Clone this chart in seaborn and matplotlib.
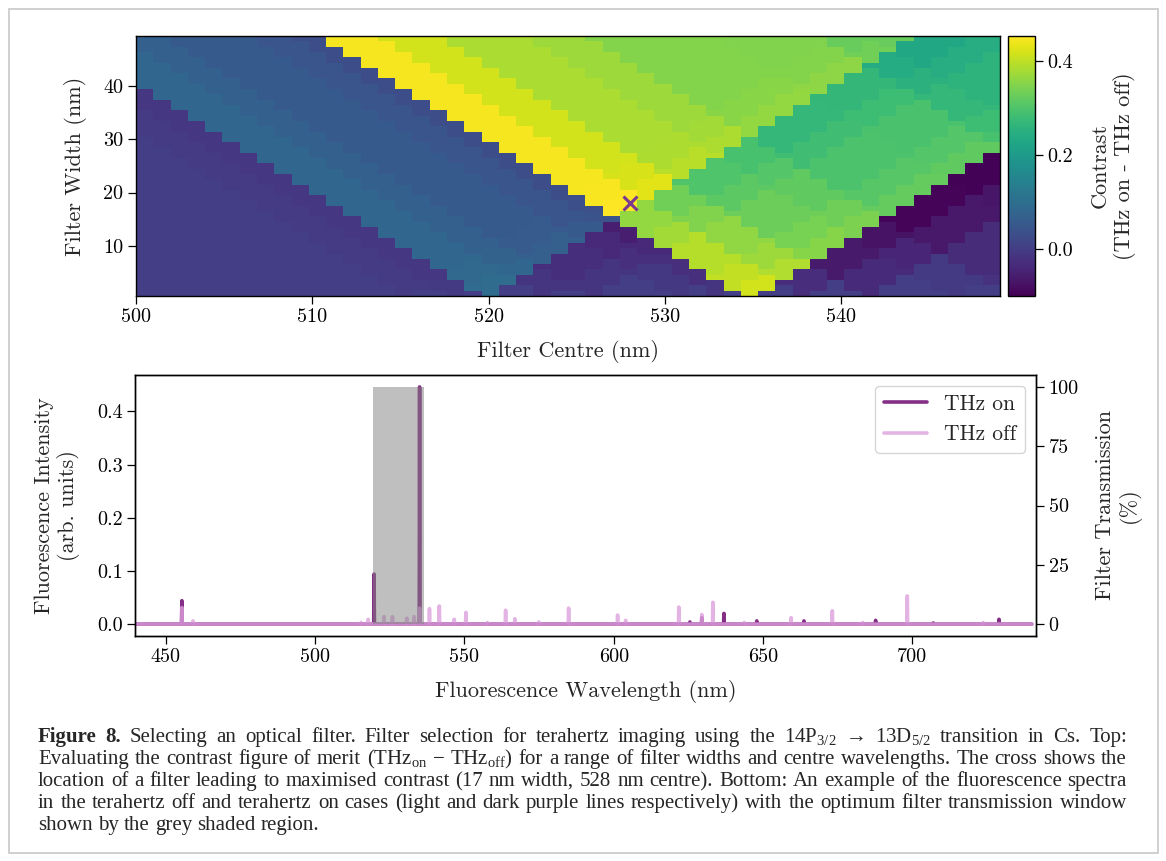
import numpy as np
import pandas as pd
import matplotlib
matplotlib.use("Agg")
import matplotlib.pyplot as plt
from matplotlib.patches import Rectangle
import seaborn as sns

# ---------------- data ----------------
# fluorescence lines of the example spectra (wavelength nm, intensity arb. units)
on_wl = [455.4, 519.75, 535.0, 625.5, 629.5, 636.9, 647.9, 663.7, 687.7, 707.0, 729.0]
on_int = [0.044, 0.094, 0.446, 0.004, 0.012, 0.020, 0.006, 0.006, 0.007, 0.002, 0.009]
off_wl = [455.4, 459.1, 515.4, 517.8, 523.1, 525.9, 530.7, 533.2, 535.0, 538.3,
          541.6, 546.6, 550.5, 557.7, 563.8, 566.9, 574.9, 584.9, 601.3, 604.0,
          621.8, 629.5, 633.2, 643.7, 659.4, 673.2, 683.4, 698.3, 723.7]
off_int = [0.031, 0.006, 0.003, 0.009, 0.014, 0.014, 0.011, 0.014, 0.030, 0.029,
           0.034, 0.009, 0.022, 0.003, 0.026, 0.010, 0.004, 0.030, 0.017, 0.007,
           0.032, 0.018, 0.041, 0.003, 0.012, 0.025, 0.003, 0.053, 0.003]
spec_range = [440.0, 740.0]

# filter scan grid
filter_centres = list(range(500, 550))   # nm
filter_widths = list(range(1, 50))       # nm
best_centre, best_width = 528, 18        # cross as drawn
window = [519.5, 536.5]                  # optimum filter (17 nm, 528 nm)
window_trans = 100

top_xticks = [500, 510, 520, 530, 540]
top_yticks = [10, 20, 30, 40]
cbar_ticks = [0.0, 0.2, 0.4]
bot_xticks = [450, 500, 550, 600, 650, 700]
bot_yticks = [0.0, 0.1, 0.2, 0.3, 0.4]
right_yticks = [0, 25, 50, 75, 100]

# ---------------- style ----------------
sns.set_style("ticks")
plt.rcParams.update({
    "font.family": "serif",
    "font.serif": ["cmr10", "DejaVu Serif"],
    "axes.unicode_minus": False,
    "mathtext.fontset": "custom",
    "mathtext.rm": "Liberation Serif",
    "mathtext.it": "Liberation Serif:italic",
    "mathtext.bf": "Liberation Serif:bold",
    "axes.edgecolor": "black",
    "axes.linewidth": 1.0,
    "xtick.color": "black", "ytick.color": "black",
    "xtick.direction": "out", "ytick.direction": "out",
    "xtick.major.size": 5.5, "ytick.major.size": 5.5,
    "xtick.major.width": 0.9, "ytick.major.width": 0.9,
    "xtick.labelsize": 14.5, "ytick.labelsize": 14.5,
    "axes.labelsize": 16,
    "legend.fontsize": 15.5,
})

W, H = 1166, 861
fig = plt.figure(figsize=(W / 100, H / 100), dpi=100)

def fx(px):
    return px / W

def fy(py):
    return 1 - py / H

on_color = "#7d2380"
off_color = "#dda0dd"

# ---------------- top: contrast map ----------------
contrast = np.zeros((len(filter_widths), len(filter_centres)))
for i, w in enumerate(filter_widths):
    for j, c in enumerate(filter_centres):
        lo, hi = c - w / 2, c + w / 2
        s_on = sum(h for l, h in zip(on_wl, on_int) if lo <= l <= hi)
        s_off = sum(h for l, h in zip(off_wl, off_int) if lo <= l <= hi)
        contrast[i, j] = s_on - s_off

ax1 = fig.add_axes([fx(136), fy(296), fx(1000) - fx(136), fy(36) - fy(296)])
cax = fig.add_axes([fx(1008), fy(296), fx(1035) - fx(1008), fy(36) - fy(296)])
sns.heatmap(contrast, ax=ax1, cbar_ax=cax, cmap="viridis", vmin=-0.1, vmax=0.453,
            xticklabels=False, yticklabels=False, linewidths=0)
ax1.invert_yaxis()
ncol = len(filter_centres)
span = filter_centres[-1] - filter_centres[0]

def xpos(nm):
    return (nm - filter_centres[0]) * ncol / span

def ypos(w):
    return w - filter_widths[0] + 0.5

ax1.set_xticks([xpos(t) for t in top_xticks])
ax1.set_xticklabels([str(t) for t in top_xticks], rotation=0)
ax1.set_yticks([ypos(t) for t in top_yticks])
ax1.set_yticklabels([str(t) for t in top_yticks], rotation=0)
for s in ax1.spines.values():
    s.set_visible(True)
    s.set_linewidth(1.0)
ax1.plot([xpos(best_centre)], [ypos(best_width)], marker="x", ms=10, mew=2.2,
         color="#7b3a8e", ls="none")
ax1.set_xlabel("Filter Centre (nm)", labelpad=10)
ax1.set_ylabel("Filter Width (nm)", labelpad=12)

cb = ax1.collections[0].colorbar
cb.outline.set_linewidth(1.0)
cb.outline.set_edgecolor("black")
cb.set_ticks(cbar_ticks)
cb.set_ticklabels(["0.0", "0.2", "0.4"])
cb.ax.tick_params(labelsize=14.5, length=5.5, width=0.9)
cb.set_label("Contrast\n(THz on - THz off)", fontsize=16, labelpad=12)

# ---------------- bottom: spectra ----------------
def spectrum_frame(wl, inten, label, half=0.12):
    xs, ys = [spec_range[0]], [0.0]
    for l, h in sorted(zip(wl, inten)):
        xs += [l - half, l, l + half]
        ys += [0.0, h, 0.0]
    xs.append(spec_range[1])
    ys.append(0.0)
    return pd.DataFrame({"wl": xs, "I": ys, "series": label})

spec = pd.concat([spectrum_frame(on_wl, on_int, "THz on"),
                  spectrum_frame(off_wl, off_int, "THz off")], ignore_index=True)

ax2 = fig.add_axes([fx(135), fy(636), fx(1036) - fx(135), fy(375) - fy(636)])
sns.lineplot(data=spec, x="wl", y="I", hue="series", hue_order=["THz on", "THz off"],
             palette={"THz on": on_color, "THz off": off_color},
             sort=False, estimator=None, lw=2.6, ax=ax2, legend=False)
lines = ax2.get_lines()
lines[0].set_alpha(0.95)
lines[1].set_alpha(0.8)
for ln in lines:
    ln.set_solid_capstyle("round")
ax2.set_xlim(439.7, 741.4)
ax2.set_ylim(-0.0224, 0.4684)
ax2.set_xticks(bot_xticks)
ax2.set_yticks(bot_yticks)
ax2.set_yticklabels(["0.0", "0.1", "0.2", "0.3", "0.4"])
ax2.set_xlabel("Fluorescence Wavelength (nm)", labelpad=10)
ax2.set_ylabel("Fluorescence Intensity\n(arb. units)", labelpad=12)
leg = ax2.legend(handles=lines[:2], labels=["THz on", "THz off"], loc="upper right",
                 frameon=True, fancybox=True, framealpha=0.8, edgecolor="#cccccc")

ax3 = ax2.twinx()
ax3.fill_between(window, 0, window_trans, color="grey", alpha=0.5, lw=0)
ax3.set_ylim(-5, 105)
ax3.set_yticks(right_yticks)
ax3.set_ylabel("Filter Transmission\n(%)", labelpad=12)
for a in (ax2, ax3):
    for s in a.spines.values():
        s.set_visible(True)
        s.set_linewidth(1.0)

# ---------------- frame and caption ----------------
fig.patches.append(Rectangle((fx(8.5), fy(853)), fx(1157.5) - fx(8.5), fy(8.5) - fy(853),
                             transform=fig.transFigure, fill=False,
                             edgecolor="#c8c8c8", lw=1.2))

caption_lines = [
    r"Figure 8. Selecting an optical filter. Filter selection for terahertz imaging using the 14P$_{3/2}$ → 13D$_{5/2}$ transition in Cs. Top:",
    r"Evaluating the contrast figure of merit (THz$_{\mathrm{on}}$ − THz$_{\mathrm{off}}$) for a range of filter widths and centre wavelengths. The cross shows the",
    "location of a filter leading to maximised contrast (17 nm width, 528 nm centre). Bottom: An example of the fluorescence spectra",
    "in the terahertz off and terahertz on cases (light and dark purple lines respectively) with the optimum filter transmission window",
    "shown by the grey shaded region.",
]
baselines = [742, 764, 786, 808, 830]
cap_left, cap_right = 38, 1127
cap_family = ["Liberation Serif", "DejaVu Serif"]
renderer = fig.canvas.get_renderer()

def word_width(word, fs, bold=False):
    t = fig.text(0, 0, word, fontsize=fs, family=cap_family,
                 fontweight="bold" if bold else "normal")
    w = t.get_window_extent(renderer).width
    t.remove()
    return w

fs0 = 15.0
scale = 1.0
for k, line in enumerate(caption_lines[:-1]):
    words = line.split(" ")
    ws = [word_width(wd, fs0, bold=(k == 0 and j < 2)) for j, wd in enumerate(words)]
    natural = sum(ws) + 0.18 * fs0 * 1.39 * (len(words) - 1)
    scale = min(scale, (cap_right - cap_left) / natural)
fs = fs0 * scale

for k, line in enumerate(caption_lines):
    words = line.split(" ")
    bolds = [(k == 0 and j < 2) for j in range(len(words))]
    ws = [word_width(wd, fs, b) for wd, b in zip(words, bolds)]
    if k < len(caption_lines) - 1:
        gap = (cap_right - cap_left - sum(ws)) / (len(words) - 1)
    else:
        gap = 0.25 * fs * 1.39
    x = cap_left
    for wd, wdt, b in zip(words, ws, bolds):
        fig.text(fx(x), fy(baselines[k]), wd, fontsize=fs, family=cap_family,
                 fontweight="bold" if b else "normal", va="baseline", ha="left")
        x += wdt + gap

fig.savefig("out.png", dpi=100)
